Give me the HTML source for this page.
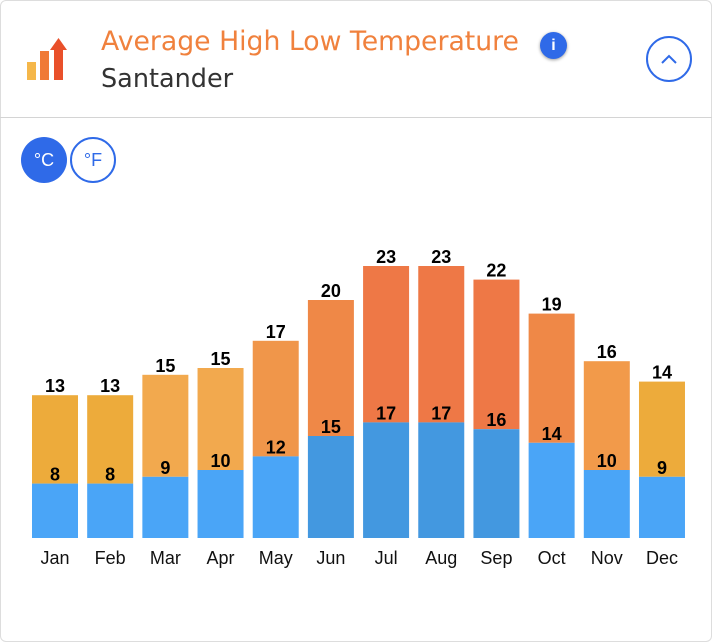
<!DOCTYPE html>
<html><head><meta charset="utf-8">
<style>
body{margin:0;background:#fff;font-family:"Liberation Sans",sans-serif;}
#card{position:absolute;left:0;top:0;width:710px;height:640px;border:1px solid #ddd;border-radius:6px;}
#hdr-line{position:absolute;left:0;top:117px;width:712px;height:1px;background:#d4d4d4;}
.t{position:absolute;white-space:nowrap;}
</style></head><body>
<div id="card"></div>
<svg style="position:absolute;left:25px;top:36px" width="50" height="46">
<rect x="2" y="26" width="9" height="18" fill="#f5b74a"/>
<rect x="15" y="15" width="9" height="29" fill="#f07a35"/>
<rect x="29" y="12" width="9" height="32" fill="#e9502a"/>
<polygon points="25,14 33.5,2 42,14" fill="#e9502a"/>
</svg>
<div class="t" style="left:101px;top:26px;font-family:'DejaVu Sans',sans-serif;font-size:26.7px;color:#f0813d;">Average High Low Temperature</div>
<div class="t" style="left:101px;top:64px;font-family:'DejaVu Sans',sans-serif;font-size:25.5px;color:#333;">Santander</div>
<div style="position:absolute;left:540px;top:32px;width:27px;height:27px;border-radius:50%;background:#2f6ae8;box-shadow:0 1px 3px rgba(0,0,0,.4);color:#fff;font-weight:bold;font-size:16px;text-align:center;line-height:27px;">i</div>
<div style="position:absolute;left:646px;top:36px;width:42px;height:42px;border-radius:50%;border:2px solid #2f6ae8;"><svg width="42" height="42"><polyline points="14,25 21,18 28,25" fill="none" stroke="#2f6ae8" stroke-width="2"/></svg></div>
<div id="hdr-line"></div>
<div style="position:absolute;left:21px;top:137px;width:46px;height:46px;border-radius:50%;background:#2f6ae8;color:#fff;font-size:18px;text-align:center;line-height:46px;">°C</div>
<div style="position:absolute;left:70px;top:137px;width:42px;height:42px;border-radius:50%;border:2px solid #2f6ae8;color:#2f6ae8;font-size:18px;text-align:center;line-height:42px;">°F</div>
<svg id="chart" style="position:absolute;left:0;top:0" width="712" height="613"></svg>
<script>
const months=["Jan","Feb","Mar","Apr","May","Jun","Jul","Aug","Sep","Oct","Nov","Dec"];
const lows=[8,8,9,10,12,15,17,17,16,14,10,9];
const highs=[13,13,15,15,17,20,23,23,22,19,16,14];
const svg=document.getElementById('chart');
const NS='http://www.w3.org/2000/svg';
const base=538,k=6.8,x0=32,step=55.18,bw=46;
function xs(i){return x0+i*step;}
function ys(v){return base-v*k;}
function lowColor(v){return v>=15?'#4398e0':'#4aa5f7';}
function highColor(v){if(v>=21)return '#ee7846';if(v>=18)return '#ef8847';if(v>=17)return '#f0964a';if(v>=16)return '#f29a4a';if(v>=15)return '#f2a94e';return '#edab3b';}
function mk(tag,a){const e=document.createElementNS(NS,tag);for(const n in a)e.setAttribute(n,a[n]);svg.appendChild(e);return e;}
months.forEach((m,i)=>{
  const x=xs(i),lt=ys(lows[i]),ht=ys(lows[i]+highs[i]);
  const hb=mk('rect',{x:x,y:ht,width:bw,height:lt-ht,fill:highColor(highs[i])});
  
  
  const lb=mk('rect',{x:x,y:lt,width:bw,height:base-lt,fill:lowColor(lows[i])});
  
  
  const t1=mk('text',{x:x+bw/2,y:ht-3,'text-anchor':'middle','font-size':'18','font-weight':'bold',fill:'#000','font-family':'Liberation Sans, sans-serif'});
  t1.textContent=highs[i];
  
  
  const t2=mk('text',{x:x+bw/2,y:lt-3,'text-anchor':'middle','font-size':'18','font-weight':'bold',fill:'#000','font-family':'Liberation Sans, sans-serif'});
  t2.textContent=lows[i];
  
  
  const t3=mk('text',{x:x+bw/2,y:564,'text-anchor':'middle','font-size':'18',fill:'#111','font-family':'Liberation Sans, sans-serif'});
  t3.textContent=m;
  
  
});
</script>
</body></html>
